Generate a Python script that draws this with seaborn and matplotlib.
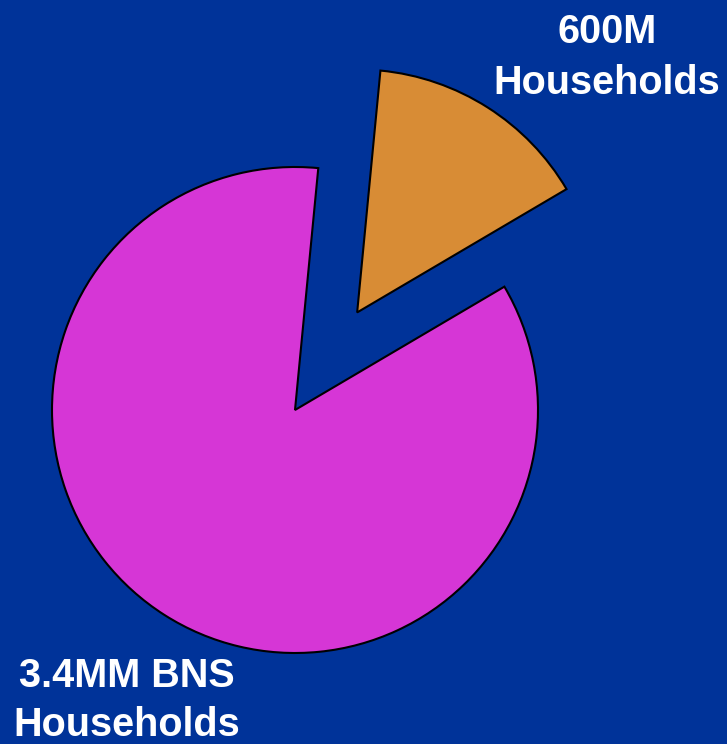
import matplotlib
matplotlib.use("Agg")
import matplotlib.pyplot as plt
import seaborn as sns

# Household segments (millions)
labels = ["3.4MM BNS\nHouseholds", "600M\nHouseholds"]
values = [3.4, 0.6]
colors = ["#D636D6", "#D88C35"]
explode = [0.0, 0.476]

BG = "#003399"

sns.set_theme(style="white")
plt.rcParams["font.family"] = ["Liberation Sans", "DejaVu Sans"]

W, H, DPI = 727, 744, 100
fig = plt.figure(figsize=(W / DPI, H / DPI), dpi=DPI, facecolor=BG)
ax = fig.add_axes([0, 0, 1, 1])
ax.set_facecolor(BG)

wedges, _ = ax.pie(
    values,
    colors=colors,
    explode=explode,
    startangle=84.5,
    counterclock=True,
    radius=1.0,
    wedgeprops=dict(edgecolor="black", linewidth=1.5),
)

# pie radius = 243 px, centre at (295, 410) px from top-left
R = 243.0
cx, cy = 295.0, 410.0
ax.set_xlim(-cx / R, (W - cx) / R)
ax.set_ylim(-(H - cy) / R, cy / R)
ax.set_aspect("auto")
ax.axis("off")

txt = dict(color="white", fontsize=28.5, fontweight="bold", ha="center",
           va="baseline")
fig.text(607 / W, 1 - 43 / H, "600M", **txt)
fig.text(607 / W, 1 - 94 / H, "Households", **txt)
fig.text(127 / W, 1 - 687 / H, "3.4MM BNS", **txt)
fig.text(127 / W, 1 - 736 / H, "Households", **txt)

fig.savefig("out.png", dpi=DPI, facecolor=BG)
